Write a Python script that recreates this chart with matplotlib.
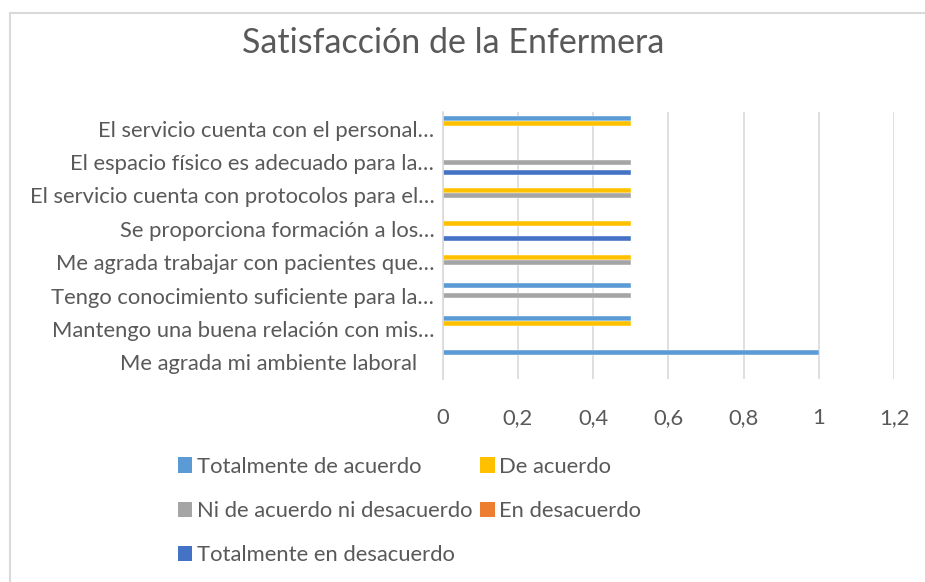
import matplotlib
matplotlib.use("Agg")
import matplotlib.pyplot as plt
import numpy as np
from matplotlib.patches import Rectangle

plt.rcParams['font.family'] = ['Lato', 'DejaVu Sans']

# preguntas (de abajo hacia arriba)
categorias = [
    "Me agrada mi ambiente laboral   ",
    "Mantengo una buena relación con mis…",
    "Tengo conocimiento suficiente para la…",
    "Me agrada trabajar con pacientes que…",
    "Se proporciona formación a los…",
    "El servicio cuenta con protocolos para el…",
    "El espacio físico es adecuado para la…",
    "El servicio cuenta con el personal…",
]

series = ["Totalmente de acuerdo", "De acuerdo", "Ni de acuerdo ni desacuerdo",
          "En desacuerdo", "Totalmente en desacuerdo"]
colores = ["#5B9BD5", "#FFC000", "#A5A5A5", "#ED7D31", "#4472C4"]

totalmente_acuerdo = [1, 0.5, 0.5, 0, 0, 0, 0, 0.5]
de_acuerdo = [0, 0.5, 0, 0.5, 0.5, 0.5, 0, 0.5]
ni_acuerdo = [0, 0, 0.5, 0.5, 0, 0.5, 0.5, 0]
en_desacuerdo = [0, 0, 0, 0, 0, 0, 0, 0]
totalmente_desacuerdo = [0, 0, 0, 0, 0.5, 0, 0.5, 0]

valores = [totalmente_acuerdo, de_acuerdo, ni_acuerdo, en_desacuerdo, totalmente_desacuerdo]

gris_txt = "#595959"
gris_lin = "#D9D9D9"
fs = 15.8

fig = plt.figure(figsize=(9.25, 5.82), dpi=100)
ax = fig.add_axes([442.7 / 925, 1 - 379 / 582, (894 - 442.7) / 925, (379 - 112) / 582])

y = np.arange(len(categorias))
h = 0.15
barras = []
for i, (nombre, vals, c) in enumerate(zip(series, valores, colores)):
    # primera serie arriba dentro del grupo
    off = (2 - i) * h
    b = ax.barh(y + off, vals, height=h, color=c, label=nombre,
                edgecolor="white", linewidth=0.3, zorder=3)
    barras.append(b)

ax.set_ylim(-0.5, len(categorias) - 0.5)
ax.set_xlim(0, 1.2)
ax.set_xticks(np.arange(0, 1.21, 0.2))
ax.set_xticklabels(["0", "0,2", "0,4", "0,6", "0,8", "1", "1,2"])
ax.set_yticks(y)
ax.set_yticklabels(categorias)
ax.tick_params(axis="x", length=0, pad=21, labelsize=fs, labelcolor=gris_txt)
ax.tick_params(axis="y", length=0, pad=6, labelsize=fs, labelcolor=gris_txt)
ax.grid(axis="x", color=gris_lin, linewidth=1.2, zorder=0)
for s in ["top", "right", "bottom"]:
    ax.spines[s].set_visible(False)
ax.spines["left"].set_color(gris_lin)
ax.spines["left"].set_linewidth(1.2)
ax.spines["left"].set_zorder(4)

fig.text(453 / 925, 1 - 43 / 582, "Satisfacción de la Enfermera",
         ha="center", va="center", fontsize=24.5, color=gris_txt)

# leyenda en filas como Excel: col1 = 0,2,4 ; col2 = 1,3
orden = [0, 2, 4, 1, 3]
leg = fig.legend([barras[k] for k in orden], [series[k] for k in orden],
                 ncol=2, loc="upper left", bbox_to_anchor=(176 / 925, 1 - 446 / 582),
                 frameon=False, fontsize=fs, labelcolor=gris_txt,
                 handlelength=0.65, handleheight=0.72, handletextpad=0.22,
                 labelspacing=1.1, columnspacing=0.35, borderpad=0)
for hd in leg.legend_handles:
    hd.set_linewidth(0)

# borde del area del grafico
fig.patches.append(Rectangle((10 / 925, -0.01), 1.0, 1 - 13 / 582 + 0.01,
                             transform=fig.transFigure, fill=False,
                             edgecolor=gris_lin, linewidth=1.5))

fig.canvas.draw()
# ajustar la leyenda para que el primer marcador quede en x~178
bb = leg.legend_handles[0].get_window_extent()
dx = 178 - bb.x0
leg.set_bbox_to_anchor(((176 + dx) / 925, 1 - 446 / 582), transform=fig.transFigure)

fig.savefig("out.png", dpi=100)
